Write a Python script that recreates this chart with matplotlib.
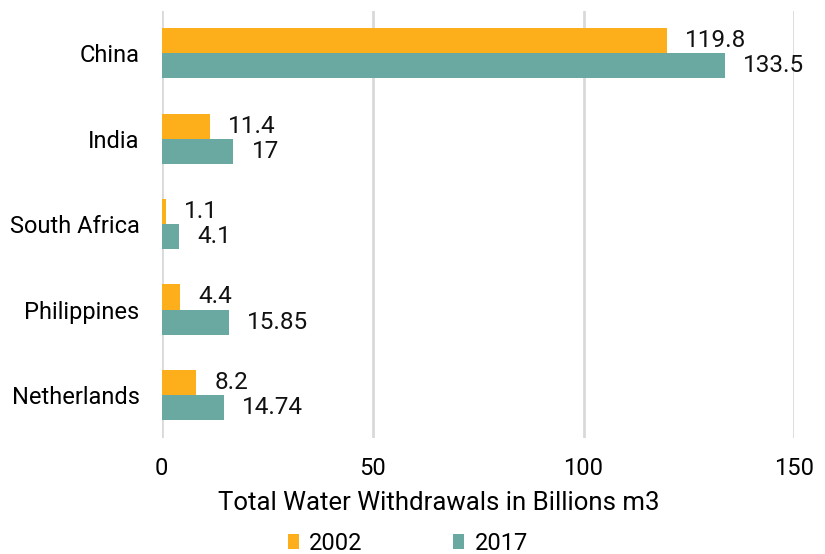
import matplotlib.pyplot as plt
import numpy as np

plt.rcParams['font.family'] = ['Roboto', 'DejaVu Sans']

countries = ['China', 'India', 'South Africa', 'Philippines', 'Netherlands']
withdrawals_2002 = [119.8, 11.4, 1.1, 4.4, 8.2]
withdrawals_2017 = [133.5, 17, 4.1, 15.85, 14.74]
labels_2002 = ['119.8', '11.4', '1.1', '4.4', '8.2']
labels_2017 = ['133.5', '17', '4.1', '15.85', '14.74']
x_ticks = [0, 50, 100, 150]

orange = '#FDAF1B'
teal = '#69A9A2'

fig = plt.figure(figsize=(8.25, 5.54), dpi=100)
ax = fig.add_axes([0.196, 0.21, 0.767, 0.771])

y = np.arange(len(countries))
h = 0.294
bars_a = ax.barh(y - h / 2, withdrawals_2002, height=h, color=orange, label='2002', zorder=3)
bars_b = ax.barh(y + h / 2, withdrawals_2017, height=h, color=teal, label='2017', zorder=3)

for bars, labels in ((bars_a, labels_2002), (bars_b, labels_2017)):
    for bar, text in zip(bars, labels):
        ax.annotate(text, (bar.get_width(), bar.get_y() + bar.get_height() / 2),
                    xytext=(13, 0), textcoords='offset points',
                    va='center', ha='left', fontsize=17.5, color='#111111')

ax.set_xlim(0, 150)
ax.set_ylim(len(countries) - 0.5, -0.5)
ax.set_yticks(y)
ax.set_yticklabels(countries, fontsize=17)
ax.set_xticks(x_ticks)
ax.set_xticklabels([str(t) for t in x_ticks], fontsize=17)
ax.tick_params(length=0)
ax.tick_params(axis='x', pad=14)
ax.tick_params(axis='y', pad=16)
ax.grid(axis='x', color='#d9d9d9', linewidth=2, zorder=0)
for s in ax.spines.values():
    s.set_visible(False)

ax.set_xlabel('Total Water Withdrawals in Billions m3', fontsize=18.5)
ax.xaxis.set_label_coords(0.4376, -0.125)

fig.legend(handles=[bars_a, bars_b], labels=['2002', '2017'], loc='lower center',
           bbox_to_anchor=(0.4945, -0.04), ncol=2, frameon=False, fontsize=17,
           handlelength=0.45, handleheight=0.6, columnspacing=3.84, handletextpad=0.45)

plt.savefig('out.png', dpi=100)
